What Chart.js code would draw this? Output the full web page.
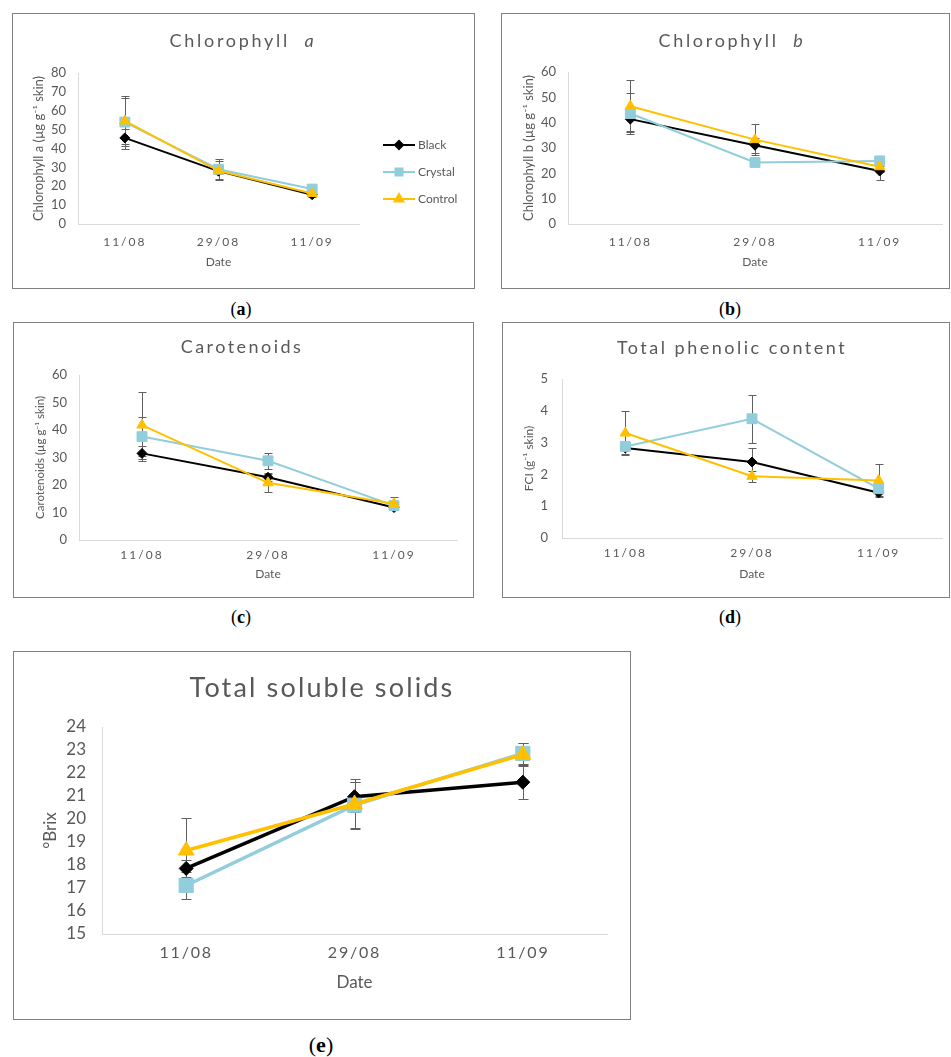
<!DOCTYPE html>
<html>
<head>
<meta charset="utf-8">
<script src="https://cdn.jsdelivr.net/npm/chart.js@4/dist/chart.umd.min.js"></script>
<style>
  body { margin: 0; background: #fff; width: 951px; height: 1057px; position: relative; overflow: hidden; }
  .box { position: absolute; outline: 1px solid #808080; outline-offset: -1px; }
  .box canvas { position: absolute; left: 0; top: 0; }
  .cap { position: absolute; font-family: "Liberation Serif", serif; font-size: 18px; color: #000;
         transform: translate(-50%, -50%); white-space: nowrap; }
</style>
</head>
<body>
<div class="box" id="boxA" style="left:12px;top:13px;width:463px;height:276px"><canvas id="chA"></canvas></div>
<div class="box" id="boxB" style="left:501px;top:13px;width:449px;height:276px"><canvas id="chB"></canvas></div>
<div class="box" id="boxC" style="left:13px;top:322px;width:461px;height:276px"><canvas id="chC"></canvas></div>
<div class="box" id="boxD" style="left:502px;top:322px;width:448px;height:276px"><canvas id="chD"></canvas></div>
<div class="box" id="boxE" style="left:13px;top:651px;width:618px;height:369px"><canvas id="chE"></canvas></div>
<div class="cap" style="left:241px;top:309px">(<b>a</b>)</div>
<div class="cap" style="left:730px;top:309px">(<b>b</b>)</div>
<div class="cap" style="left:241px;top:617px">(<b>c</b>)</div>
<div class="cap" style="left:730px;top:617px">(<b>d</b>)</div>
<div class="cap" style="left:321px;top:1045px;font-size:22px">(<b>e</b>)</div>
<script>
// sampling dates and treatments
const dates = ['11/08', '29/08', '11/09'];
const treatments = ['Black', 'Crystal', 'Control'];
const treatColors = ['#000000', '#92CDDC', '#FFC000'];
const treatMarkers = ['rectRot', 'rect', 'triangle'];

// chlorophyll a (ug/g skin)
const chlaBlack = [45.6, 28.0, 15.5];
const chlaCrystal = [54.0, 29.0, 18.5];
const chlaControl = [54.6, 28.2, 16.2];
const chlaBlackErr = [4.5, 1.5, 1.0];
const chlaCrystalErr = [14.0, 5.4, 1.0];
const chlaControlErr = [12.0, 5.0, 1.0];

// chlorophyll b
const chlbBlack = [41.4, 31.1, 20.9];
const chlbCrystal = [43.6, 24.3, 24.9];
const chlbControl = [46.5, 33.3, 22.6];
const chlbBlackErr = [4.8, 3.0, 3.6];
const chlbCrystalErr = [8.2, 1.0, 2.0];
const chlbControlErr = [10.2, 6.0, 2.0];

// carotenoids
const carBlack = [31.5, 22.8, 11.8];
const carCrystal = [37.6, 28.8, 12.5];
const carControl = [41.8, 20.8, 13.2];
const carBlackErr = [2.7, 1.5, 1.0];
const carCrystalErr = [7.0, 3.0, 1.5];
const carControlErr = [12.2, 3.2, 2.3];

// total phenolic content (FCI)
const tpcBlack = [2.83, 2.39, 1.42];
const tpcCrystal = [2.88, 3.75, 1.55];
const tpcControl = [3.30, 1.94, 1.81];
const tpcBlackErr = [0.2, 0.45, 0.1];
const tpcCrystalErr = [0.1, 0.75, 0.1];
const tpcControlErr = [0.7, 0.18, 0.53];

// total soluble solids (Brix)
const tssBlack = [17.85, 20.97, 21.6];
const tssCrystal = [17.11, 20.6, 22.85];
const tssControl = [18.63, 20.65, 22.8];
const tssBlackErr = [0.35, 0.65, 0.73];
const tssCrystalErr = [0.6, 1.0, 0.45];
const tssControlErr = [1.4, 1.1, 0.5];

const grey = '#595959';
const axisGrey = '#d9d9d9';
const fontFam = 'Lato, "Open Sans", sans-serif';

function makeChart(id, cfg) {
  const canvas = document.getElementById(id);
  canvas.width = cfg.w;
  canvas.height = cfg.h;
  canvas.style.width = cfg.w + 'px';
  canvas.style.height = cfg.h + 'px';

  const datasets = cfg.series.map((s, i) => ({
    label: treatments[i],
    data: s.values,
    errors: s.err,
    borderColor: treatColors[i],
    backgroundColor: treatColors[i],
    pointBackgroundColor: treatColors[i],
    pointBorderColor: treatColors[i],
    borderWidth: cfg.lineW,
    pointStyle: treatMarkers[i],
    pointRadius: cfg.radii[i],
    pointBorderWidth: 1,
    tension: 0,
    order: 2 - i
  }));

  const errorBars = {
    id: 'errorBars',
    beforeDatasetsDraw(chart) {
      const ctx = chart.ctx, y = chart.scales.y;
      ctx.save();
      ctx.strokeStyle = '#606060';
      ctx.lineWidth = 1;
      chart.data.datasets.forEach((ds, i) => {
        chart.getDatasetMeta(i).data.forEach((pt, j) => {
          const e = ds.errors[j];
          const top = Math.round(y.getPixelForValue(ds.data[j] + e)) + 0.5;
          const bot = Math.round(y.getPixelForValue(ds.data[j] - e)) + 0.5;
          const x = Math.round(pt.x) + 0.5;
          ctx.beginPath();
          ctx.moveTo(x, top); ctx.lineTo(x, bot);
          ctx.moveTo(x - cfg.cap, top); ctx.lineTo(x + cfg.cap, top);
          ctx.moveTo(x - cfg.cap, bot); ctx.lineTo(x + cfg.cap, bot);
          ctx.stroke();
        });
      });
      ctx.restore();
    }
  };

  const richTitle = {
    id: 'richTitle',
    afterDraw(chart) {
      const ctx = chart.ctx;
      const t = cfg.title;
      ctx.save();
      ctx.fillStyle = grey;
      ctx.textBaseline = 'middle';
      ctx.letterSpacing = t.spacing + 'px';
      const widths = t.parts.map(p => {
        ctx.font = (p[1] ? 'italic ' : '') + t.size + 'px ' + fontFam;
        return ctx.measureText(p[0]).width;
      });
      let x = t.x - widths.reduce((a, b) => a + b, 0) / 2;
      t.parts.forEach((p, k) => {
        ctx.font = (p[1] ? 'italic ' : '') + t.size + 'px ' + fontFam;
        ctx.fillText(p[0], x, t.y);
        x += widths[k];
      });
      ctx.restore();
    }
  };

  const sideLegend = {
    id: 'sideLegend',
    afterDraw(chart) {
      if (!cfg.legend) return;
      const ctx = chart.ctx, L = cfg.legend;
      ctx.save();
      chart.data.datasets.forEach((ds, i) => {
        const yy = L.y + i * L.gap;
        ctx.strokeStyle = ds.borderColor;
        ctx.lineWidth = 2;
        ctx.beginPath();
        ctx.moveTo(L.x, yy); ctx.lineTo(L.x + L.len, yy);
        ctx.stroke();
        ctx.fillStyle = ds.backgroundColor;
        ctx.strokeStyle = ds.borderColor;
        Chart.helpers.drawPoint(ctx, { pointStyle: ds.pointStyle, radius: L.radii[i], borderWidth: 1, rotation: 0 },
          L.x + L.len / 2, yy);
        ctx.fillStyle = grey;
        ctx.font = L.size + 'px ' + fontFam;
        ctx.textBaseline = 'middle';
        ctx.fillText(ds.label, L.x + L.len + 3, yy);
      });
      ctx.restore();
    }
  };

  return new Chart(canvas, {
    type: 'line',
    data: { labels: dates, datasets },
    plugins: [errorBars, richTitle, sideLegend],
    options: {
      responsive: false,
      animation: false,
      events: [],
      layout: { padding: { left: 0, top: cfg.area.top, right: cfg.w - cfg.area.right, bottom: 0 } },
      plugins: { legend: { display: false }, tooltip: { enabled: false }, title: { display: false } },
      scales: {
        x: {
          type: 'category',
          offset: true,
          grid: { display: false, drawTicks: false },
          border: { display: true, color: axisGrey, width: 1 },
          ticks: { color: grey, font: { family: fontFam, size: cfg.xTick }, padding: cfg.xTickPad,
                   maxRotation: 0, autoSkip: false },
          title: { display: true, text: 'Date', color: grey, font: { family: fontFam, size: cfg.xTitle },
                   padding: { top: 0, bottom: cfg.xTitlePad } },
          afterFit(s) {
            s.height = cfg.h - cfg.area.bottom;
            // date labels are letter-spaced in the original
            if (!s._spaced) {
              const draw = s.drawLabels.bind(s);
              s.drawLabels = function (area) {
                this.ctx.save();
                this.ctx.letterSpacing = cfg.xSpacing + 'px';
                draw(area);
                this.ctx.restore();
              };
              s._spaced = true;
            }
          }
        },
        y: {
          min: cfg.yMin, max: cfg.yMax,
          grid: { display: false, drawTicks: false },
          border: { display: true, color: axisGrey, width: 1 },
          ticks: { stepSize: cfg.yStep, autoSkip: false, color: grey,
                   font: { family: fontFam, size: cfg.yTick }, padding: cfg.yTickPad },
          title: { display: true, text: cfg.yTitle, color: grey, font: { family: fontFam, size: cfg.yTitleSize },
                   padding: { top: cfg.yTitlePad, bottom: 0 } },
          afterFit(s) { s.width = cfg.area.left; }
        }
      }
    }
  });
}

const small = { lineW: 2, radii: [5, 7, 6], cap: 4, xTick: 12, xSpacing: 2, xTitle: 12, yTick: 13, yTickPad: 12 };

makeChart('chA', Object.assign({}, small, {
  w: 463, h: 276, area: { left: 66, top: 60, right: 347, bottom: 211 },
  title: { x: 231, y: 28, size: 18, spacing: 2.7, parts: [['Chlorophyll  ', false], ['a', true]] },
  series: [{ values: chlaBlack, err: chlaBlackErr }, { values: chlaCrystal, err: chlaCrystalErr },
           { values: chlaControl, err: chlaControlErr }],
  yMin: 0, yMax: 80, yStep: 10, yTitle: 'Chlorophyll a (µg g⁻¹ skin)', yTitleSize: 13,
  xTickPad: 11, xTitlePad: 20, yTitlePad: 19,
  legend: { x: 371, y: 132, gap: 27, len: 32, size: 12, radii: [4, 5, 5] }
}));

makeChart('chB', Object.assign({}, small, {
  w: 449, h: 276, area: { left: 67, top: 59, right: 445, bottom: 211 },
  title: { x: 231, y: 28, size: 18, spacing: 2.7, parts: [['Chlorophyll  ', false], ['b', true]] },
  series: [{ values: chlbBlack, err: chlbBlackErr }, { values: chlbCrystal, err: chlbCrystalErr },
           { values: chlbControl, err: chlbControlErr }],
  yMin: 0, yMax: 60, yStep: 10, yTitle: 'Chlorophyll b (µg g⁻¹ skin)', yTitleSize: 13,
  xTickPad: 11, xTitlePad: 20, yTitlePad: 20
}));

makeChart('chC', Object.assign({}, small, {
  w: 461, h: 276, area: { left: 66, top: 53, right: 444, bottom: 218 },
  title: { x: 229, y: 25, size: 18, spacing: 2.45, parts: [['Carotenoids', false]] },
  series: [{ values: carBlack, err: carBlackErr }, { values: carCrystal, err: carCrystalErr },
           { values: carControl, err: carControlErr }],
  yMin: 0, yMax: 60, yStep: 10, yTitle: 'Carotenoids (µg g⁻¹ skin)', yTitleSize: 11.5,
  xTickPad: 8, xTitlePad: 17, yTitlePad: 20
}));

makeChart('chD', Object.assign({}, small, {
  w: 448, h: 276, area: { left: 60, top: 57, right: 444, bottom: 216 },
  title: { x: 230, y: 26, size: 18, spacing: 2.5, parts: [['Total phenolic content', false]] },
  series: [{ values: tpcBlack, err: tpcBlackErr }, { values: tpcCrystal, err: tpcCrystalErr },
           { values: tpcControl, err: tpcControlErr }],
  yMin: 0, yMax: 5, yStep: 1, yTitle: 'FCI (g⁻¹ skin)', yTitleSize: 12,
  xTickPad: 8, xTitlePad: 17, yTitlePad: 20, yTickPad: 14
}));

makeChart('chE', {
  w: 618, h: 369, area: { left: 89, top: 76, right: 594, bottom: 283 },
  lineW: 3.5, radii: [7, 10, 9], cap: 5,
  xTick: 16, xSpacing: 1.8, xTitle: 17, yTick: 17, yTitleSize: 17, yTickPad: 16,
  title: { x: 309, y: 37, size: 27, spacing: 2.15, parts: [['Total soluble solids', false]] },
  series: [{ values: tssBlack, err: tssBlackErr }, { values: tssCrystal, err: tssCrystalErr },
           { values: tssControl, err: tssControlErr }],
  yMin: 15, yMax: 24, yStep: 1, yTitle: '°Brix',
  xTickPad: 9, xTitlePad: 27, yTitlePad: 27
});
</script>
</body>
</html>
